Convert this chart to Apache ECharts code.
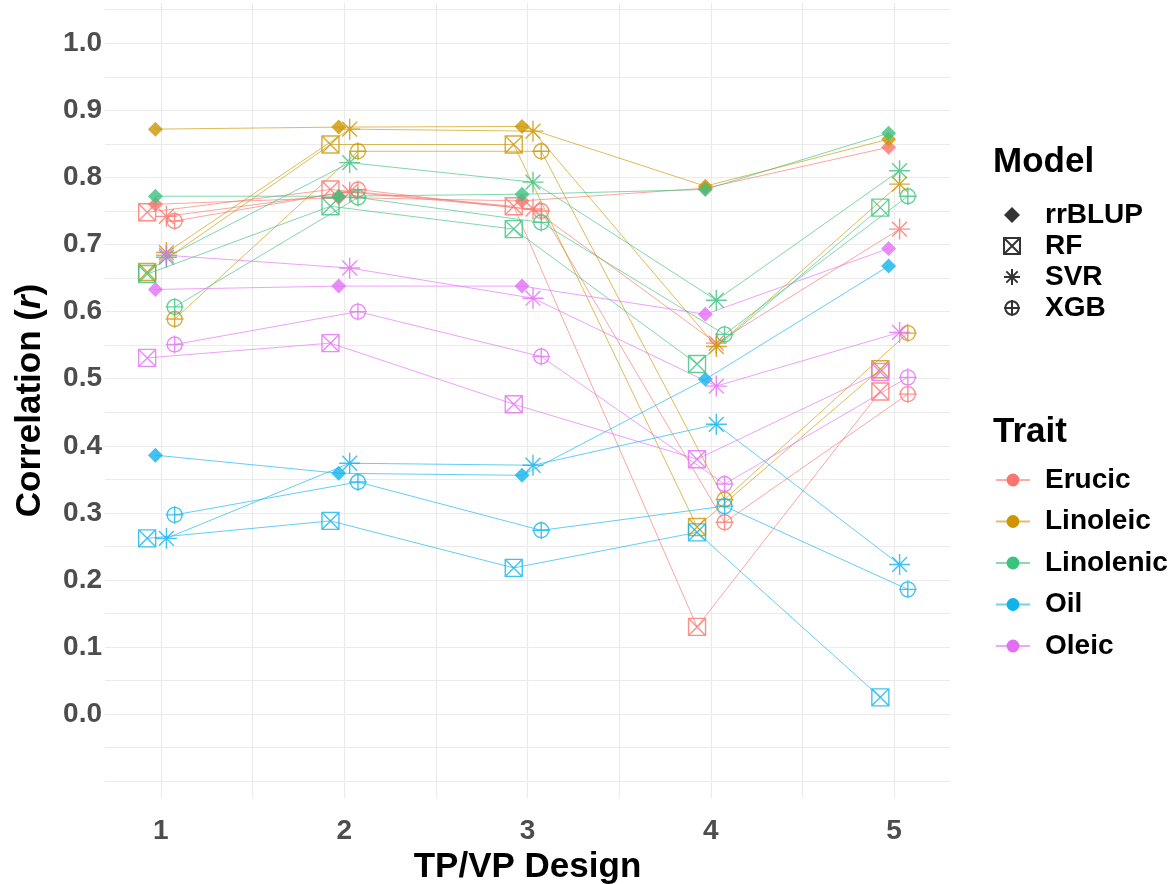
<!DOCTYPE html>
<html>
<head>
<meta charset="utf-8">
<script src="https://cdn.jsdelivr.net/npm/echarts@6/dist/echarts.min.js"></script>
<style>html,body{margin:0;padding:0;background:#fff;}#chart{width:1174px;height:884px;}</style>
</head>
<body>
<div id="chart"></div>
<script>
// ---- data ----
const designs = [1, 2, 3, 4, 5];
const xTickLabels = ['1', '2', '3', '4', '5'];
const models = ['rrBLUP', 'RF', 'SVR', 'XGB'];
const traits = ['Erucic', 'Linoleic', 'Linolenic', 'Oil', 'Oleic'];
// rows: rrBLUP, RF, SVR, XGB ; columns: TP/VP design 1..5
const erucic = [
  [0.760, 0.770, 0.765, 0.784, 0.845],
  [0.748, 0.782, 0.757, 0.130, 0.481],
  [0.742, 0.778, 0.753, 0.553, 0.723],
  [0.735, 0.782, 0.750, 0.286, 0.477]
];
const linoleic = [
  [0.872, 0.875, 0.876, 0.787, 0.857],
  [0.659, 0.849, 0.849, 0.279, 0.514],
  [0.688, 0.872, 0.869, 0.548, 0.790],
  [0.589, 0.839, 0.839, 0.320, 0.568]
];
const linolenic = [
  [0.772, 0.772, 0.775, 0.782, 0.866],
  [0.656, 0.757, 0.723, 0.522, 0.755],
  [0.681, 0.822, 0.793, 0.617, 0.810],
  [0.607, 0.770, 0.733, 0.566, 0.772]
];
const oil = [
  [0.386, 0.359, 0.356, 0.499, 0.668],
  [0.262, 0.288, 0.218, 0.271, 0.025],
  [0.262, 0.374, 0.371, 0.432, 0.223],
  [0.297, 0.346, 0.274, 0.310, 0.186]
];
const oleic = [
  [0.633, 0.638, 0.638, 0.596, 0.694],
  [0.531, 0.553, 0.462, 0.380, 0.510],
  [0.684, 0.665, 0.620, 0.489, 0.569],
  [0.551, 0.600, 0.533, 0.343, 0.502]
];
const traitValues = [erucic, linoleic, linolenic, oil, oleic];

// ---- styles ----
const FONT = 'Liberation Sans, Arial, sans-serif';
const traitColors = ['#F8766D', '#CD9600', '#3CC27F', '#10B4EC', '#E36EF6'];
const dodge = [-0.03, -0.075, 0.03, 0.075];   // horizontal dodge per model
const DIAMOND = 'path://M5,0L10,5L5,10L0,5Z';
const symbolDefs = [
  { symbol: 'diamond', size: 15, filled: true },
  { symbol: 'path://M0,0L10,0L10,10L0,10Z M0,0L10,10 M10,0L0,10', size: 17, filled: false },
  { symbol: 'path://M5,0L5,10 M0,5L10,5 M1.46,1.46L8.54,8.54 M8.54,1.46L1.46,8.54', size: 21, filled: false },
  { symbol: 'path://M6,1A5,5 0 1,1 6,11A5,5 0 1,1 6,1Z M6,0L6,12 M0,6L12,6', size: 18, filled: false }
];
const legendIcons = [DIAMOND, symbolDefs[1].symbol, symbolDefs[2].symbol, symbolDefs[3].symbol];

function pointStyle(def, color) {
  return def.filled
    ? { color: color, borderWidth: 0 }
    : { color: 'rgba(0,0,0,0)', borderColor: color, borderWidth: 1.4 };
}

const series = [];
// legend-only series: models (black symbols)
models.forEach((m, mi) => {
  series.push({
    name: m, type: 'scatter', data: [],
    symbol: symbolDefs[mi].symbol, symbolSize: 16,
    itemStyle: pointStyle(symbolDefs[mi], '#000')
  });
});
// legend-only series: traits (line + dot)
traits.forEach((t, ti) => {
  series.push({
    name: t, type: 'line', data: [], symbol: 'circle',
    itemStyle: { color: traitColors[ti] },
    lineStyle: { color: traitColors[ti], width: 1.5, opacity: 0.6 }
  });
});
// connecting lines
traits.forEach((t, ti) => {
  models.forEach((m, mi) => {
    series.push({
      name: t, type: 'line', symbol: 'none', silent: true, z: 2,
      data: designs.map((d, di) => [d + dodge[mi], traitValues[ti][mi][di]]),
      lineStyle: { color: traitColors[ti], width: 1, opacity: 0.65 },
      itemStyle: { color: traitColors[ti] }
    });
  });
});
// points
traits.forEach((t, ti) => {
  models.forEach((m, mi) => {
    series.push({
      name: t, type: 'scatter', z: 3, silent: true,
      symbol: symbolDefs[mi].symbol, symbolSize: symbolDefs[mi].size,
      data: designs.map((d, di) => [d + dodge[mi], traitValues[ti][mi][di]]),
      itemStyle: pointStyle(symbolDefs[mi], traitColors[ti])
    });
  });
});

const gridColor = '#EBEBEB';
const titleStyle = { fontFamily: FONT, fontSize: 35, fontWeight: 'bold', color: '#000' };
const modelLegendText = { fontFamily: FONT, fontSize: 28, fontWeight: 'bold', color: '#000', padding: [0, 0, 0, 11] };
const traitLegendText = { fontFamily: FONT, fontSize: 28, fontWeight: 'bold', color: '#000', padding: [0, 0, 0, 10] };
const option = {
  animation: false,
  backgroundColor: '#fff',
  title: [
    { text: 'Model', left: 993, top: 145, padding: 0, textStyle: titleStyle },
    { text: 'Trait', left: 993, top: 415, padding: 0, textStyle: titleStyle }
  ],
  legend: [
    { orient: 'vertical', left: 1003, top: 201, padding: 0,
      data: models.map((m, mi) => ({ name: m, icon: legendIcons[mi] })),
      itemWidth: 34, itemHeight: 16, itemGap: 3, selectedMode: false, textStyle: modelLegendText },
    { orient: 'vertical', left: 995, top: 466, padding: 0, data: traits,
      itemWidth: 34, itemHeight: 16, itemGap: 13.5, selectedMode: false, textStyle: traitLegendText }
  ],
  grid: { left: 105, right: 224, top: 3, bottom: 86, containLabel: false, outerBoundsMode: 'none' },
  xAxis: {
    type: 'value', min: 0.695, max: 5.305, splitNumber: 9,
    name: 'TP/VP Design', nameLocation: 'middle', nameGap: 45,
    nameTextStyle: titleStyle,
    axisLine: { show: false }, axisTick: { show: false },
    axisLabel: {
      showMinLabel: false, showMaxLabel: false, margin: 19,
      fontFamily: FONT, fontSize: 28, fontWeight: 'bold', color: '#4D4D4D',
      formatter: v => {
        const i = designs.indexOf(Math.round(v));
        return (Math.abs(v - Math.round(v)) < 1e-6 && i >= 0) ? xTickLabels[i] : '';
      }
    },
    splitLine: { show: true, showMinLine: false, showMaxLine: false, lineStyle: { color: gridColor, width: 1.2 } }
  },
  yAxis: {
    type: 'value', min: -0.125, max: 1.06, splitNumber: 24,
    name: '{a|Correlation (}{b|r}{a|)}', nameLocation: 'middle', nameGap: 57,
    nameTextStyle: {
      rich: {
        a: { fontFamily: FONT, fontSize: 35, fontWeight: 'bold', color: '#000' },
        b: { fontFamily: FONT, fontSize: 35, fontWeight: 'bold', fontStyle: 'italic', color: '#000' }
      }
    },
    axisLine: { show: false }, axisTick: { show: false },
    axisLabel: {
      showMinLabel: false, showMaxLabel: false, margin: 3,
      fontFamily: FONT, fontSize: 28, fontWeight: 'bold', color: '#4D4D4D',
      formatter: v => {
        const t = Math.round(v * 10);
        return (Math.abs(v * 10 - t) < 1e-6 && t >= 0 && t <= 10) ? (t / 10).toFixed(1) : '';
      }
    },
    splitLine: { show: true, showMinLine: false, showMaxLine: false, lineStyle: { color: gridColor, width: 1.2 } }
  },
  series: series
};
const chart = echarts.init(document.getElementById('chart'), null, { renderer: 'canvas' });
chart.setOption(option);
</script>
</body>
</html>
